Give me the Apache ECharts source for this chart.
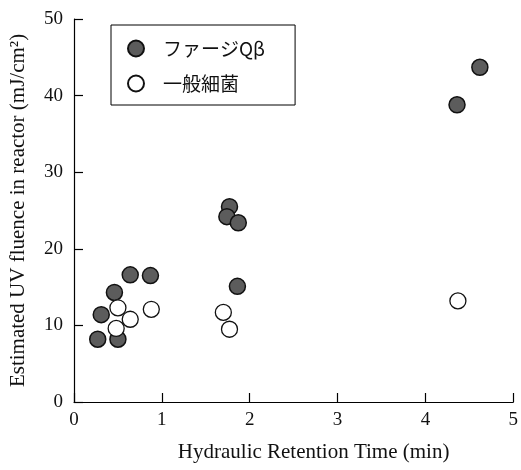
<!DOCTYPE html>
<html>
<head>
<meta charset="utf-8">
<script src="https://cdn.jsdelivr.net/npm/echarts@6/dist/echarts.min.js"></script>
<style>html,body{margin:0;padding:0;background:#fff;}#c{width:521px;height:470px;}</style>
</head>
<body>
<div id="c"></div>
<script>
var phageX = [0.27, 0.31, 0.50, 0.46, 0.64, 0.87, 1.86, 1.77, 1.74, 1.87, 4.62, 4.36];
var phageY = [8.2, 11.4, 8.2, 14.3, 16.6, 16.5, 15.1, 25.5, 24.2, 23.4, 43.7, 38.8];
var bactX = [0.50, 0.64, 0.48, 0.88, 1.70, 1.77, 4.37];
var bactY = [12.3, 10.8, 9.6, 12.1, 11.7, 9.5, 13.2];
var seriesNames = ['ファージQβ', '一般細菌'];
var xTitle = 'Hydraulic Retention Time (min)';
var yTitle = 'Estimated UV fluence in reactor (mJ/cm²)';

function pairs(xs, ys) { return xs.map(function (x, i) { return [x, ys[i]]; }); }

var serif = '"Liberation Serif", "DejaVu Serif", serif';
var chart = echarts.init(document.getElementById('c'));
chart.setOption({
  animation: false,
  backgroundColor: '#fff',
  grid: { left: 73, right: 7, top: 19, bottom: 68, containLabel: false },
  legend: {
    orient: 'vertical',
    left: 111, top: 25,
    borderColor: '#000', borderWidth: 1,
    padding: [14, 30, 12, 16],
    itemGap: 16,
    itemWidth: 16, itemHeight: 16,
    textStyle: { fontFamily: '"Noto Sans CJK JP", sans-serif', fontSize: 19, color: '#111', padding: [0, 0, 0, 14] },
    data: [{ name: seriesNames[0], icon: 'circle' }, { name: seriesNames[1], icon: 'circle' }]
  },
  xAxis: {
    type: 'value', min: 0, max: 5, interval: 1,
    name: xTitle, nameLocation: 'middle', nameGap: 40,
    nameTextStyle: { fontFamily: serif, fontSize: 21, color: '#111', padding: [0, 0, 0, 40] },
    axisLine: { show: true, lineStyle: { color: '#000', width: 1.2 } },
    axisTick: { show: true, inside: true, length: 9, lineStyle: { color: '#000', width: 1.2 } },
    axisLabel: { fontFamily: serif, fontSize: 19, color: '#111', margin: 9 },
    splitLine: { show: false }
  },
  yAxis: {
    type: 'value', min: 0, max: 50, interval: 10,
    name: yTitle, nameLocation: 'middle', nameGap: 45,
    nameTextStyle: { fontFamily: serif, fontSize: 21, color: '#111' },
    axisLine: { show: true, lineStyle: { color: '#000', width: 1.2 } },
    axisTick: { show: true, inside: true, length: 9, lineStyle: { color: '#000', width: 1.2 } },
    axisLabel: { fontFamily: serif, fontSize: 19, color: '#111', margin: 11 },
    splitLine: { show: false }
  },
  series: [
    {
      name: seriesNames[0], type: 'scatter', symbol: 'circle', symbolSize: 16,
      itemStyle: { color: '#5c5c5c', borderColor: '#111', borderWidth: 1.5, opacity: 1 },
      data: pairs(phageX, phageY)
    },
    {
      name: seriesNames[1], type: 'scatter', symbol: 'circle', symbolSize: 16,
      itemStyle: { color: '#fff', borderColor: '#111', borderWidth: 1.3, opacity: 1 },
      data: pairs(bactX, bactY)
    }
  ]
});
</script>
</body>
</html>
